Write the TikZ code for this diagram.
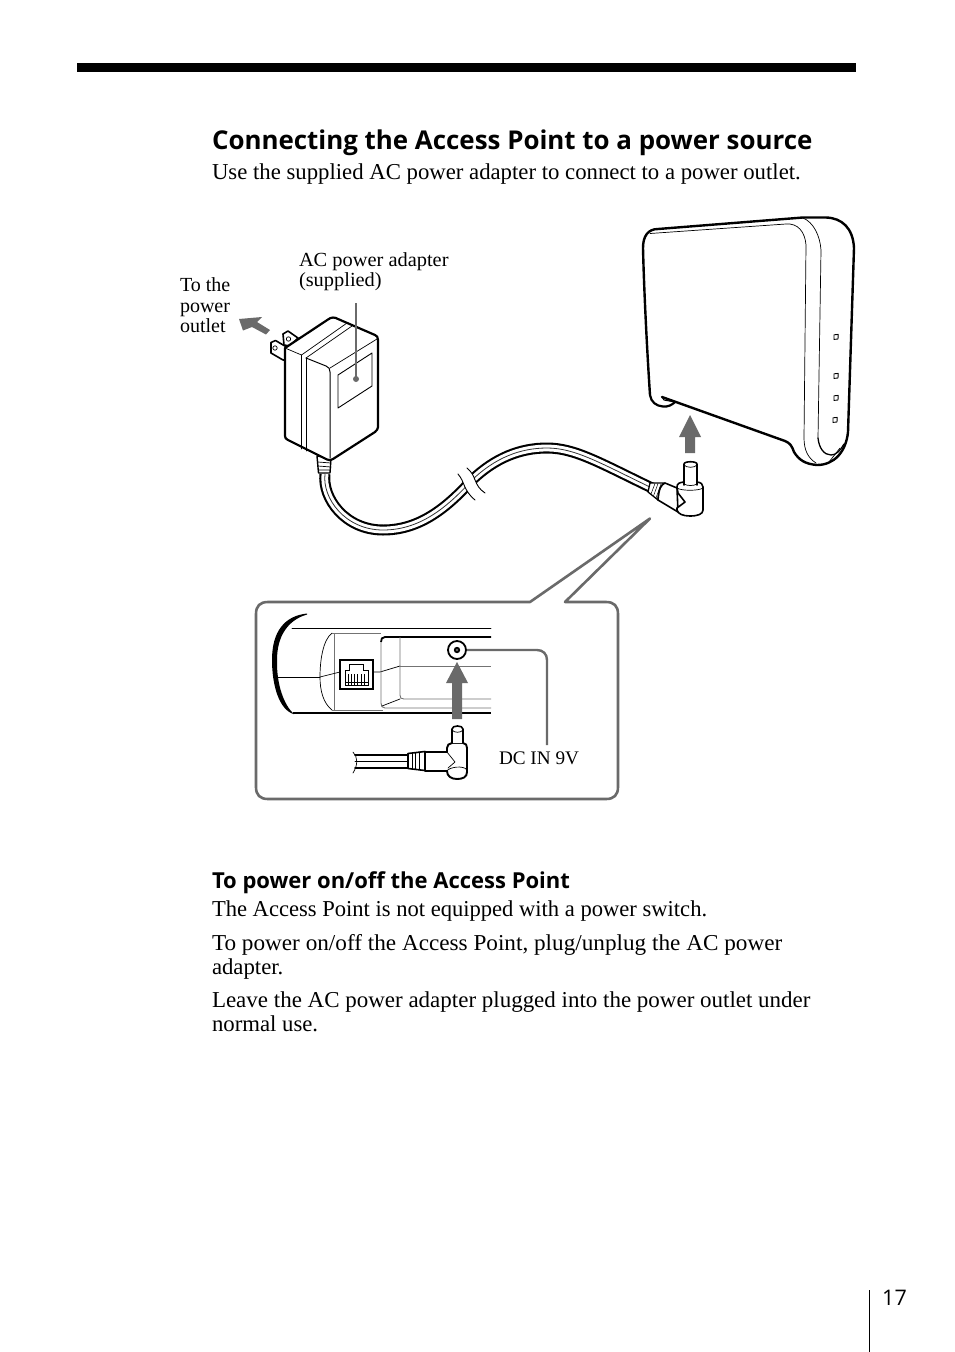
\documentclass[tikz,border=0pt]{standalone}
\usepackage{fontspec}
\setmainfont{Liberation Serif}
\newfontfamily\headfont{Open Sans}
\usetikzlibrary{calc}
\definecolor{callgray}{HTML}{6A6A6A}
\newcommand{\widen}[2]{\scalebox{#1}[1]{#2}}
\tikzset{
  body/.style={anchor=base west,inner sep=0pt,outer sep=0pt,font=\fontsize{22.75}{24}\selectfont},
  small/.style={anchor=base west,inner sep=0pt,outer sep=0pt,font=\fontsize{20}{21}\selectfont},
  heading/.style={anchor=base west,inner sep=0pt,outer sep=0pt,font=\headfont\bfseries\fontsize{25.9}{30}\selectfont},
  subheading/.style={anchor=base west,inner sep=0pt,outer sep=0pt,font=\headfont\bfseries\fontsize{22}{24}\selectfont},
  heavy/.style={line width=2.2pt,line join=round,line cap=round},
  medium/.style={line width=1.6pt,line join=round,line cap=round},
  fine/.style={line width=0.7pt,line join=round,line cap=round},
  greyline/.style={line width=0.9pt,color=black!55},
  pointer/.style={line width=2.6pt,color=callgray,line join=round},
  bigarrow/.style={fill=callgray,draw=none},
}
\begin{document}
\begin{tikzpicture}[x=1pt,y=-1pt]
\useasboundingbox (0,0) rectangle (954,1352);
\fill[white] (0,0) rectangle (954,1352);
% page furniture
\fill[black] (77,63) rectangle (856,72);
\draw[line width=1pt] (869,1290) -- (869,1352);
\node[anchor=base west,inner sep=0pt,font=\headfont\fontsize{21.5}{24}\selectfont] (pagenum) at (882,1305) {17};
% texts
\node[heading] (title) at (212,149) {Connecting the Access Point to a power source};
\node[body] (intro) at (212,179) {Use the supplied AC power adapter to connect to a power outlet.};
\node[subheading] (sub) at (212,888) {To power on/off the Access Point};
\node[body] (p1) at (212,916) {\widen{0.992}{The Access Point is not equipped with a power switch.}};
\node[body] (p2a) at (212,950) {\widen{1.02}{To power on/off the Access Point, plug/unplug the AC power}};
\node[body] (p2b) at (212,974) {adapter.};
\node[body] (p3a) at (212,1007) {\widen{1.01}{Leave the AC power adapter plugged into the power outlet under}};
\node[body] (p3b) at (212,1031) {normal use.};
\node[small] (acl1) at (299,266) {\widen{1.02}{AC power adapter}};
\node[small] (acl2) at (299,286) {\widen{1.02}{(supplied)}};
\node[small] (to1) at (180,291) {To the};
\node[small] (to2) at (180,312) {power};
\node[small] (to3) at (180,332) {outlet};
\node[small,font=\fontsize{19.2}{20}\selectfont] (dcin) at (499,764) {DC IN 9V};
% ---------- router
\draw[heavy,line width=2.4pt,fill=white]
  (650,395) .. controls (647,350) and (644,290) .. (643,248)
  .. controls (643,236) and (648,229) .. (658,229)
  -- (803,217.5) -- (826,217.5)
  .. controls (842,218) and (853,228) .. (854,248)
  -- (848,432)
  .. controls (846,452) and (834,465) .. (817,465)
  .. controls (805,464) and (799,460) .. (794,452)
  .. controls (792,446) and (790,443) .. (785,441)
  -- (662,397);
\draw[heavy] (650,395) .. controls (651,402) and (656,406) .. (663,406.5)
  .. controls (668,407) and (672,405) .. (675,402);
\draw[medium,line width=1.1pt] (662,397) -- (664,400) -- (675,402);
\draw[fine] (650,233.5) -- (786,224) .. controls (798,223) and (805,232) .. (806,245)
  -- (804,438) .. controls (804,450) and (808,458) .. (816,463);
\draw[fine] (803,218) .. controls (813,222) and (820,235) .. (821,250)
  -- (818,438);
\draw[medium,line width=1.3pt] (818,438) .. controls (819,448) and (824,455) .. (831,455)
  .. controls (836,455) and (840,451) .. (844,444);
\draw[fine] (829,462) -- (840,448);
\foreach \lx/\ly/\ln in {836/337/a,836/376/b,836/398/c,835/420/d}
  \draw[fine,line width=0.9pt] (\lx-2,\ly-2.2) -- (\lx+2.2,\ly-2.6) -- (\lx+2,\ly+2) -- (\lx-2,\ly+2.4) -- cycle;
% up arrow to router
\fill[bigarrow] (690,415) -- (701,437) -- (695,437) -- (695,453) -- (685,453) -- (685,437) -- (679,437) -- cycle;
% ---------- cable (two segments joined by a break)
\def\cablepath{(325,474) .. controls (322,498) and (345,530) .. (383,530) .. controls (418,530) and (445,510) .. (472,480) .. controls (495,458) and (520,448) .. (547,448) .. controls (575,448) and (600,463) .. (652,488)}
\draw[line width=11pt,black] \cablepath;
\draw[line width=6.8pt,white] \cablepath;
\draw[line width=0.8pt,black!80] \cablepath;
% break
\fill[white] (458,474) .. controls (465,482) and (463,490) .. (475,500)
  -- (485,493) .. controls (473,485) and (477,476) .. (467,468) -- cycle;
\draw[fine,line width=0.9pt] (458,474) .. controls (465,482) and (463,490) .. (475,500);
\draw[fine,line width=0.9pt] (467,468) .. controls (477,476) and (473,485) .. (485,493);
% strain relief at adapter
\draw[medium,line width=1.4pt,fill=white] (317,456) -- (318.5,473) -- (330,473) -- (331,458) -- cycle;
\draw[fine] (318,462) -- (331,463) (318,466) -- (331,467) (318.5,470) -- (330.5,470);
% ---------- adapter
\draw[medium,fill=white] (271,342.5) -- (275.5,340.5) -- (290,349) -- (286,360) -- (283,360) -- (271,353) -- cycle;
\draw[fine] (275,348) circle (2.2);
\draw[medium,fill=white] (284,345) -- (283,334) -- (288,331) -- (298,338) -- (290,346) -- cycle;
\draw[fine] (288.5,339) circle (2.2);
\draw[heavy,fill=white] (285,348) -- (328,319.5) .. controls (331,317) and (335,317) .. (338,319)
  -- (375,335) .. controls (377,336) and (378,337) .. (378,340)
  -- (378,427) .. controls (378,429) and (377,430) .. (375,432)
  -- (333,459) .. controls (331,460.5) and (329,460.5) .. (327,459.5)
  -- (288,440) .. controls (286,439) and (285,438) .. (285,436) -- cycle;
\draw[fine] (301.5,355) -- (347,323);
\draw[fine] (306,358) -- (352,326);
\draw[fine] (301.5,355) -- (301.5,449);
\draw[fine] (306,358) -- (306,451);
\draw[fine] (285,348) -- (301.5,355);
\draw[fine,line width=1pt] (306,358) -- (326,366) .. controls (329,367) and (330,369) .. (330,372) -- (330,458);
\draw[fine] (330,368) -- (377,339);
\draw[fine,line width=0.9pt] (338,375) -- (372,353) -- (372,386) -- (338,408) -- cycle;
% leader for adapter
\coordinate (acdot) at (356,379);
\coordinate (actop) at (356,303);
\draw[greyline,line width=1.3pt,color=callgray] (actop) -- (acdot);
\fill[callgray] (acdot) circle (3);
% arrow to outlet
\fill[bigarrow] (239,319) -- (262,317) -- (257,322) -- (270,330) -- (266,334.5) -- (252,327) -- (243,330.5) -- cycle;
% ---------- plug near router
\draw[medium,line width=1.3pt,fill=white] (650,483) -- (665,483) .. controls (661,485) and (659,488) .. (658,500) -- (648,492) -- cycle;
\draw[fine,line width=0.5pt] (651,494) -- (655,483.5) (653.5,496) -- (658,483.5) (656,498) -- (661,484);
\draw[medium,fill=white] (665,483) -- (677,488) -- (678,512) -- (658,500) .. controls (659,488) and (661,485) .. (665,483) -- cycle;
\draw[medium,fill=white] (677,487) .. controls (677,483) and (680,482.5) .. (684,482) -- (697,482)
  .. controls (701,482.5) and (703,484) .. (703,487) -- (703,510)
  .. controls (703,514) and (698,516) .. (690,516) .. controls (683,516) and (678,514) .. (677,510) -- (677,508)
  -- (685,502) -- (678,493) -- cycle;
\draw[fine] (677,488) .. controls (681,491) and (699,491) .. (703,488);
\draw[medium,fill=white] (684,485) -- (684,464) .. controls (684,461) and (697,461) .. (697,464) -- (697,485);
\draw[fine] (684,465) .. controls (686,468) and (695,468) .. (697,465);
\draw[fine] (684,484) .. controls (687,486) and (694,486) .. (697,484);
% ---------- callout box
\draw[pointer] (530,602) -- (650,518.5) -- (565,602) -- (606,602)
  .. controls (614,602) and (618,606) .. (618,614) -- (618,787)
  .. controls (618,795) and (614,799) .. (606,799) -- (268,799)
  .. controls (260,799) and (256,795) .. (256,787) -- (256,614)
  .. controls (256,606) and (260,602) .. (268,602) -- cycle;
% ---------- underside of the access point
\fill[black] (307,613.5) .. controls (284,616) and (272,632) .. (272,660)
  .. controls (272,685) and (279,710) .. (294,714.2)
  .. controls (284,705) and (276.5,685) .. (277,660)
  .. controls (277,636) and (288,620) .. (307,614.5) -- cycle;
\draw[black,line width=2.6pt] (293,713) -- (491,713);
\draw[fine] (292,628) -- (491,628);
\draw[fine] (277,677) -- (320,677);
\draw[fine] (332,633) .. controls (323,640) and (320,660) .. (320,677)
  .. controls (320,690) and (323,703) .. (332,710);
\draw[greyline] (332,633) -- (381,633);
\draw[greyline] (334,633) -- (334,710);
\draw[greyline] (332,710) -- (383,710);
\draw[fine] (320,677) -- (340,672);
\draw[fine] (373,672) -- (380,672) -- (400,666);
\draw[greyline] (400,666) -- (491,666);
\draw[black,line width=1.8pt] (491,637) -- (385,637) .. controls (382,637) and (381,639) .. (381,642);
\draw[greyline] (381,642) -- (381,703) .. controls (381,706) and (382,708) .. (385,708) -- (491,708);
\draw[greyline] (400,637) -- (400,695) .. controls (400,698) and (401,699) .. (404,699) -- (491,699);
\draw[fine] (382,706) -- (400,699);
% RJ45 socket
\node[draw,line width=1.2pt,minimum width=33pt,minimum height=29pt,inner sep=0pt,fill=white] (rj) at (356.5,674.5) {};
\draw[line width=0.8pt] (345,685) -- (345,670) -- (349,670) -- (349,664) -- (363,664) -- (363,670) -- (368,670) -- (368,685) -- cycle;
\draw[line width=0.8pt] (345,682) -- (368,682);
\foreach \px in {348.5,351.6,354.7,357.8,360.9,364}
  \draw[line width=0.8pt] (\px,674) -- (\px,685);
% DC jack
\node[circle,draw,line width=1.8pt,minimum size=18pt,inner sep=0pt,fill=white] (jack) at (457,650) {};
\fill[black] (jack.center) circle (3.2);
\fill[callgray] (jack.center) circle (1.3);
% leader for jack
\coordinate (jackend) at (547,745);
\draw[callgray,line width=2.4pt] (jack.east) -- (537,650) .. controls (543,650) and (547,654) .. (547,660) -- (jackend);
% arrow to jack
\fill[bigarrow] (457,662) -- (468,683) -- (462,683) -- (462,719) -- (452,719) -- (452,683) -- (446,683) -- cycle;
% ---------- plug in the callout
\draw[medium] (355,755) -- (408,755);
\draw[medium] (355,768) -- (408,768);
\draw[fine] (355,761) -- (408,761);
\draw[fine] (353,752) .. controls (358,757) and (358,765) .. (353,773);
\draw[medium,fill=white] (408,753.5) -- (425,751.5) -- (425,770.5) -- (408,768.5) -- cycle;
\draw[fine] (412,753) -- (412,769) (415.5,752.6) -- (415.5,769.6) (419,752) -- (419,770);
\draw[medium,line width=1.9pt,fill=white] (425,752) -- (447,752) -- (447,748) .. controls (447,745) and (449,743.5) .. (452,743) -- (463,743)
  .. controls (466,743.5) and (467,745) .. (467,748) -- (467,772)
  .. controls (467,777) and (463,779) .. (457,779) .. controls (451,779) and (447,776) .. (447,771)
  -- (425,771) -- cycle;
\draw[fine] (447,752) -- (455,762) -- (448,768);
\draw[fine] (447,771) .. controls (449,767) and (464,765) .. (467,770);
\draw[medium,fill=white] (452,743) -- (452,729) .. controls (452,725) and (463,725) .. (463,729) -- (463,743);
\draw[fine] (452,730) .. controls (454,733) and (461,733) .. (463,730);
\end{tikzpicture}
\end{document}
